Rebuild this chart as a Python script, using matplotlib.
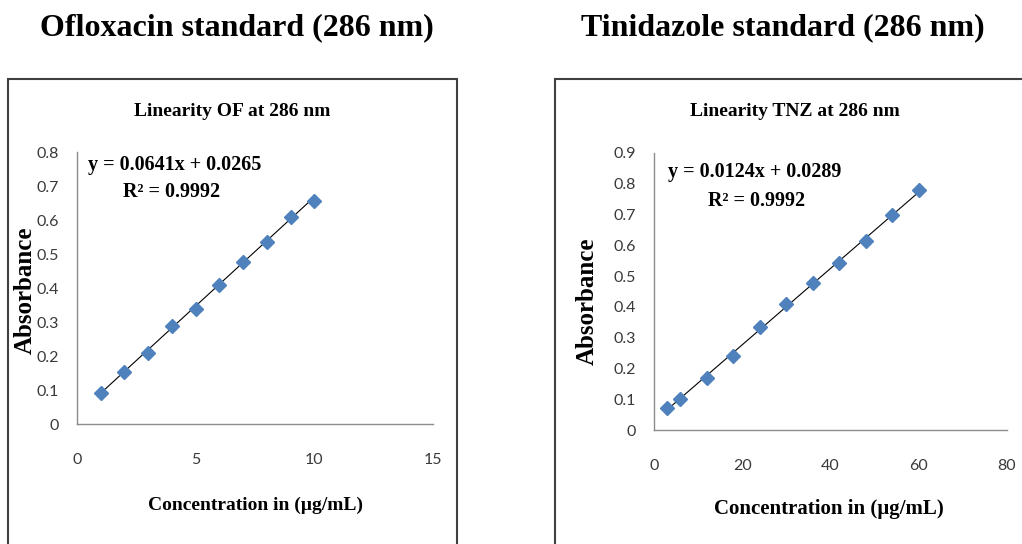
"""
plot.py - linearity curves for ofloxacin and tinidazole (matplotlib only)
"""
import numpy as np
import matplotlib.pyplot as plt
from matplotlib.patches import Rectangle

# Ofloxacin calibration
of_conc = [1, 2, 3, 4, 5, 6, 7, 8, 9, 10]
of_abs = [0.091, 0.153, 0.209, 0.288, 0.338, 0.409, 0.476, 0.535, 0.609, 0.656]
of_slope, of_icpt = 0.0641, 0.0265

# Tinidazole calibration
tnz_conc = [3, 6, 12, 18, 24, 30, 36, 42, 48, 54, 60]
tnz_abs = [0.071, 0.100, 0.168, 0.240, 0.334, 0.410, 0.477, 0.543, 0.614, 0.699, 0.780]
tnz_slope, tnz_icpt = 0.0124, 0.0289

W, H = 1022, 544
SERIF = 'Liberation Serif'
TICKFONT = 'Lato'
BLUE = '#4F81BD'


def px_axes(fig, x0, y_top, x1, y_bot):
    return fig.add_axes([x0 / W, 1 - y_bot / H, (x1 - x0) / W, (y_bot - y_top) / H])


def px_text(fig, x, y, s, **kw):
    kw.setdefault('ha', 'center')
    kw.setdefault('va', 'center')
    return fig.text(x / W, 1 - y / H, s, family=SERIF, fontweight='bold', **kw)


def draw_panel(ax, x, y, slope, icpt, xlim, ylim, xticks, yticks):
    xs = np.array([min(x), max(x)])
    ax.plot(xs, slope * xs + icpt, color='black', linewidth=0.8, zorder=2)
    ax.plot(x, y, linestyle='none', marker='D', markersize=7, color=BLUE,
            markeredgecolor=BLUE, zorder=3)
    ax.set_xlim(*xlim)
    ax.set_ylim(*ylim)
    ax.set_xticks(xticks)
    ax.set_yticks(yticks)
    ax.set_yticklabels([f"{t:g}" for t in yticks])
    for s in ['top', 'right']:
        ax.spines[s].set_visible(False)
    for s in ['left', 'bottom']:
        ax.spines[s].set_color('#8c8c8c')
        ax.spines[s].set_linewidth(1.0)
    ax.tick_params(length=0, labelsize=11.5, labelcolor='#3a3a3a')
    ax.tick_params(axis='y', pad=13)
    ax.tick_params(axis='x', pad=21)
    for lab in ax.get_xticklabels() + ax.get_yticklabels():
        lab.set_family(TICKFONT)


fig = plt.figure(figsize=(W / 100, H / 100), dpi=100)

# outer frames
fig.add_artist(Rectangle((8 / W, -0.05), (457 - 8) / W, 1 - 79 / H + 0.05,
                         transform=fig.transFigure, fill=False,
                         edgecolor='#404040', linewidth=1.5))
fig.add_artist(Rectangle((555 / W, -0.05), 0.5, 1 - 79 / H + 0.05,
                         transform=fig.transFigure, fill=False,
                         edgecolor='#404040', linewidth=1.5))

# headings
px_text(fig, 237, 28, 'Ofloxacin standard (286 nm)', fontsize=23)
px_text(fig, 783, 28, 'Tinidazole standard (286 nm)', fontsize=23)

# left panel
ax1 = px_axes(fig, 77, 152, 433, 424)
draw_panel(ax1, of_conc, of_abs, of_slope, of_icpt, (0, 15), (0, 0.8),
           [0, 5, 10, 15], [0, 0.1, 0.2, 0.3, 0.4, 0.5, 0.6, 0.7, 0.8])
px_text(fig, 232, 112, 'Linearity OF at 286 nm', fontsize=14)
px_text(fig, 88, 165, 'y = 0.0641x + 0.0265', ha='left', fontsize=14.5)
px_text(fig, 123, 192, 'R² = 0.9992', ha='left', fontsize=14.5)
px_text(fig, 255, 505, 'Concentration in (µg/mL)', fontsize=14)
px_text(fig, 25, 290, 'Absorbance', rotation=90, fontsize=18)

# right panel
ax2 = px_axes(fig, 654, 153, 1007, 430)
draw_panel(ax2, tnz_conc, tnz_abs, tnz_slope, tnz_icpt, (0, 80), (0, 0.9),
           [0, 20, 40, 60, 80], [0, 0.1, 0.2, 0.3, 0.4, 0.5, 0.6, 0.7, 0.8, 0.9])
px_text(fig, 795, 112, 'Linearity TNZ at 286 nm', fontsize=14)
px_text(fig, 668, 172, 'y = 0.0124x + 0.0289', ha='left', fontsize=14.5)
px_text(fig, 708, 201, 'R² = 0.9992', ha='left', fontsize=14.5)
px_text(fig, 829, 509, 'Concentration in (µg/mL)', fontsize=15)
px_text(fig, 587, 301, 'Absorbance', rotation=90, fontsize=18)

fig.savefig('out.png', dpi=100)
plt.close(fig)
